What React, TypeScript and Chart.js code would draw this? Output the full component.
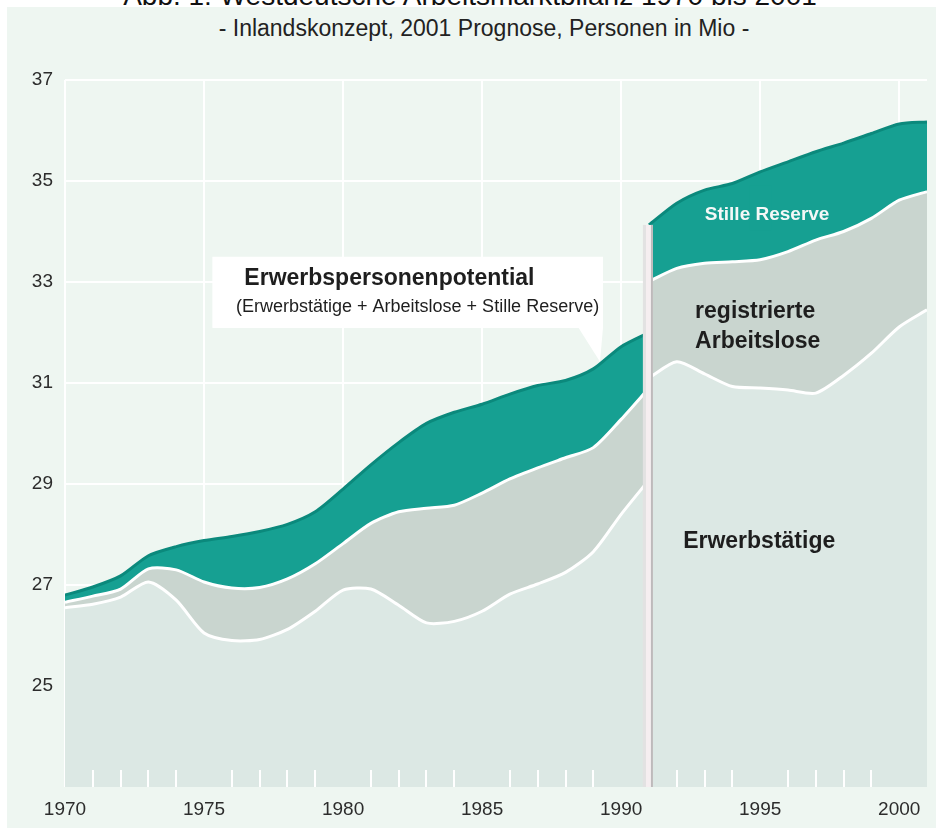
import React, { useEffect, useRef } from "react";
import { Chart, registerables } from "chart.js";

Chart.register(...registerables);

// ---- data (Personen in Mio) ----
const yearsOld = [1970, 1971, 1972, 1973, 1974, 1975, 1976, 1977, 1978, 1979, 1980, 1981, 1982, 1983, 1984, 1985, 1986, 1987, 1988, 1989, 1990, 1991];
const erwerbstaetigeOld = [26.55, 26.62, 26.76, 27.06, 26.7, 26.05, 25.9, 25.92, 26.12, 26.48, 26.9, 26.92, 26.6, 26.25, 26.28, 26.48, 26.82, 27.02, 27.25, 27.66, 28.4, 29.08];
const arbeitsloseTopOld = [26.66, 26.78, 26.92, 27.32, 27.3, 27.06, 26.94, 26.95, 27.12, 27.42, 27.82, 28.22, 28.45, 28.52, 28.58, 28.82, 29.1, 29.32, 29.52, 29.72, 30.28, 30.9];
const potentialOld = [26.8, 26.96, 27.18, 27.58, 27.76, 27.88, 27.96, 28.06, 28.2, 28.45, 28.9, 29.38, 29.82, 30.2, 30.42, 30.58, 30.78, 30.95, 31.05, 31.28, 31.72, 32.0];

const yearsNew = [1991, 1992, 1993, 1994, 1995, 1996, 1997, 1998, 1999, 2000, 2001];
const erwerbstaetigeNew = [31.1, 31.42, 31.18, 30.93, 30.9, 30.86, 30.8, 31.15, 31.59, 32.11, 32.45];
const arbeitsloseTopNew = [33.01, 33.27, 33.37, 33.4, 33.44, 33.6, 33.83, 34.0, 34.26, 34.62, 34.79];
const potentialNew = [34.13, 34.56, 34.82, 34.95, 35.18, 35.38, 35.58, 35.75, 35.94, 36.13, 36.17];

const xTickYears = [1970, 1975, 1980, 1985, 1990, 1995, 2000];
const yTickValues = [25, 27, 29, 31, 33, 35, 37];
const X_MIN = 1970;
const X_MAX = 2001;
const Y_MIN = 23;
const Y_MAX = 37;
const BREAK_YEAR = 1991;

const TITLE = "Abb. 1: Westdeutsche Arbeitsmarktbilanz 1970 bis 2001";
const SUBTITLE = "- Inlandskonzept, 2001 Prognose, Personen in Mio -";

const FONT = '"Liberation Sans", Arial, Helvetica, sans-serif';
const PANEL = "#EEF6F1";
const ERW_FILL = "#DCE8E4";
const ARB_FILL = "#C9D5CF";
const TEAL = "#16A092";
const TEAL_EDGE = "#0B897C";

const toXY = (xs: number[], ys: number[]) => xs.map((x, i) => ({ x, y: ys[i] }));

const decorPlugin = {
  id: "decor",
  afterDatasetsDraw(chart: any) {
    const { ctx, chartArea, scales } = chart;
    const x = scales.x;
    ctx.save();
    ctx.strokeStyle = "#ffffff";
    ctx.lineWidth = 2;
    for (let yr = X_MIN + 1; yr < X_MAX; yr++) {
      if (yr % 5 === 0) continue;
      const px = Math.round(x.getPixelForValue(yr));
      ctx.beginPath();
      ctx.moveTo(px, chartArea.bottom);
      ctx.lineTo(px, chartArea.bottom - 17);
      ctx.stroke();
    }
    ctx.restore();
  },
  afterDraw(chart: any) {
    const { ctx, chartArea, scales } = chart;
    const x = scales.x;
    const y = scales.y;
    ctx.save();

    // break bar at 1991
    const bx = x.getPixelForValue(BREAK_YEAR);
    const top = y.getPixelForValue(potentialNew[0]);
    const h = chartArea.bottom - top;
    ctx.fillStyle = "#F5EEF0";
    ctx.fillRect(bx - 6, top, 10, h);
    ctx.fillStyle = "#E2E2E2";
    ctx.fillRect(bx - 6, top, 3, h);
    ctx.fillStyle = "#BDBABB";
    ctx.fillRect(bx + 2, top, 2, h);

    // callout box
    const x1 = x.getPixelForValue(1975.3);
    const x2 = x.getPixelForValue(1989.35);
    const y1 = y.getPixelForValue(33.5);
    const y2 = y.getPixelForValue(32.09);
    ctx.fillStyle = "#ffffff";
    ctx.fillRect(x1, y1, x2 - x1, y2 - y1);
    ctx.beginPath();
    ctx.moveTo(x.getPixelForValue(1988.45), y2 - 1);
    ctx.lineTo(x2, y2 - 1);
    ctx.lineTo(x.getPixelForValue(1989.24), y.getPixelForValue(31.42));
    ctx.closePath();
    ctx.fill();

    ctx.fillStyle = "#1e1e1e";
    ctx.textBaseline = "alphabetic";
    ctx.textAlign = "left";
    ctx.font = `bold 23px ${FONT}`;
    ctx.fillText("Erwerbspersonenpotential", x.getPixelForValue(1976.45), y.getPixelForValue(32.94));
    ctx.font = `18px ${FONT}`;
    ctx.fillText("(Erwerbstätige + Arbeitslose + Stille Reserve)", x.getPixelForValue(1976.15), y.getPixelForValue(32.41));

    // Stille Reserve label (teal patch hides the grid line behind it)
    const sx1 = x.getPixelForValue(1994.6);
    const sx2 = x.getPixelForValue(1995.4);
    const sy1 = y.getPixelForValue(34.92);
    const sy2 = y.getPixelForValue(34.02);
    ctx.fillStyle = TEAL;
    ctx.fillRect(sx1, sy1, sx2 - sx1, sy2 - sy1);
    ctx.fillStyle = "#F4F8F7";
    ctx.font = `bold 19px ${FONT}`;
    ctx.textAlign = "center";
    ctx.fillText("Stille Reserve", x.getPixelForValue(1995.25), y.getPixelForValue(34.23));

    ctx.fillStyle = "#1e1e1e";
    ctx.textAlign = "left";
    ctx.font = `bold 23px ${FONT}`;
    ctx.fillText("registrierte", x.getPixelForValue(1992.66), y.getPixelForValue(32.29));
    ctx.fillText("Arbeitslose", x.getPixelForValue(1992.66), y.getPixelForValue(31.69));
    ctx.fillText("Erwerbstätige", x.getPixelForValue(1992.23), y.getPixelForValue(27.73));

    ctx.restore();
  },
};

function makeDataset(label: string, xs: number[], ys: number[], fill: any, bg: string, border: string) {
  return {
    label,
    data: toXY(xs, ys),
    fill,
    backgroundColor: bg,
    borderColor: border,
    borderWidth: 3,
    pointRadius: 0,
    pointHoverRadius: 0,
    tension: 0.25,
    borderJoinStyle: "round" as const,
  };
}

export default function App() {
  const canvasRef = useRef<HTMLCanvasElement | null>(null);

  useEffect(() => {
    const canvas = canvasRef.current;
    if (!canvas) return;
    const tickFont = { family: FONT, size: 19 };
    const chart = new Chart(canvas, {
      type: "line",
      data: {
        datasets: [
          makeDataset("Erwerbstätige", yearsOld, erwerbstaetigeOld, "start", ERW_FILL, "#ffffff"),
          makeDataset("registrierte Arbeitslose", yearsOld, arbeitsloseTopOld, "-1", ARB_FILL, "#ffffff"),
          makeDataset("Stille Reserve", yearsOld, potentialOld, "-1", TEAL, TEAL_EDGE),
          makeDataset("Erwerbstätige 91", yearsNew, erwerbstaetigeNew, "start", ERW_FILL, "#ffffff"),
          makeDataset("registrierte Arbeitslose 91", yearsNew, arbeitsloseTopNew, "-1", ARB_FILL, "#ffffff"),
          makeDataset("Stille Reserve 91", yearsNew, potentialNew, "-1", TEAL, TEAL_EDGE),
        ],
      },
      options: {
        responsive: false,
        maintainAspectRatio: false,
        animation: false,
        devicePixelRatio: 1,
        layout: { padding: { left: 0, top: 80, right: 9, bottom: 0 } },
        plugins: {
          legend: { display: false },
          tooltip: { enabled: false },
          filler: { propagate: false },
        },
        scales: {
          x: {
            type: "linear",
            min: X_MIN,
            max: X_MAX,
            z: 1,
            grid: { color: "#ffffff", lineWidth: 2, drawTicks: false },
            border: { display: false },
            ticks: {
              padding: 11,
              color: "#2c2c2c",
              font: tickFont,
              maxRotation: 0,
              autoSkip: false,
              callback: (v: any) => String(v),
            },
            afterBuildTicks: (s: any) => {
              s.ticks = xTickYears.map((v) => ({ value: v }));
            },
            afterFit: (s: any) => {
              s.height = 41;
            },
          },
          y: {
            type: "linear",
            min: Y_MIN,
            max: Y_MAX,
            z: 1,
            grid: { color: "#ffffff", lineWidth: 2, drawTicks: false },
            border: { display: false },
            ticks: {
              padding: 12,
              color: "#2c2c2c",
              font: tickFont,
              autoSkip: false,
              callback: (v: any) => String(v),
            },
            afterBuildTicks: (s: any) => {
              s.ticks = yTickValues.map((v) => ({ value: v }));
            },
            afterFit: (s: any) => {
              s.width = 65;
            },
          },
        },
      },
      plugins: [decorPlugin],
    } as any);
    return () => chart.destroy();
  }, []);

  return (
    <div
      style={{
        position: "fixed",
        left: 0,
        top: 0,
        width: 936,
        height: 828,
        overflow: "hidden",
        background: "#ffffff",
        fontFamily: FONT,
      }}
    >
      <div
        style={{
          position: "absolute",
          left: 470,
          top: -20,
          transform: "translateX(-50%)",
          whiteSpace: "nowrap",
          fontSize: 28,
          lineHeight: "32px",
          color: "#111",
        }}
      >
        {TITLE}
      </div>
      <div
        style={{
          position: "absolute",
          left: 7,
          top: 7,
          width: 929,
          height: 821,
          background: PANEL,
        }}
      />
      <div
        style={{
          position: "absolute",
          left: 484,
          top: 16,
          transform: "translateX(-50%)",
          whiteSpace: "nowrap",
          fontSize: 23,
          lineHeight: "24px",
          color: "#222",
        }}
      >
        {SUBTITLE}
      </div>
      <canvas
        ref={canvasRef}
        width={936}
        height={828}
        style={{ position: "absolute", left: 0, top: 0, width: 936, height: 828 }}
      />
    </div>
  );
}
